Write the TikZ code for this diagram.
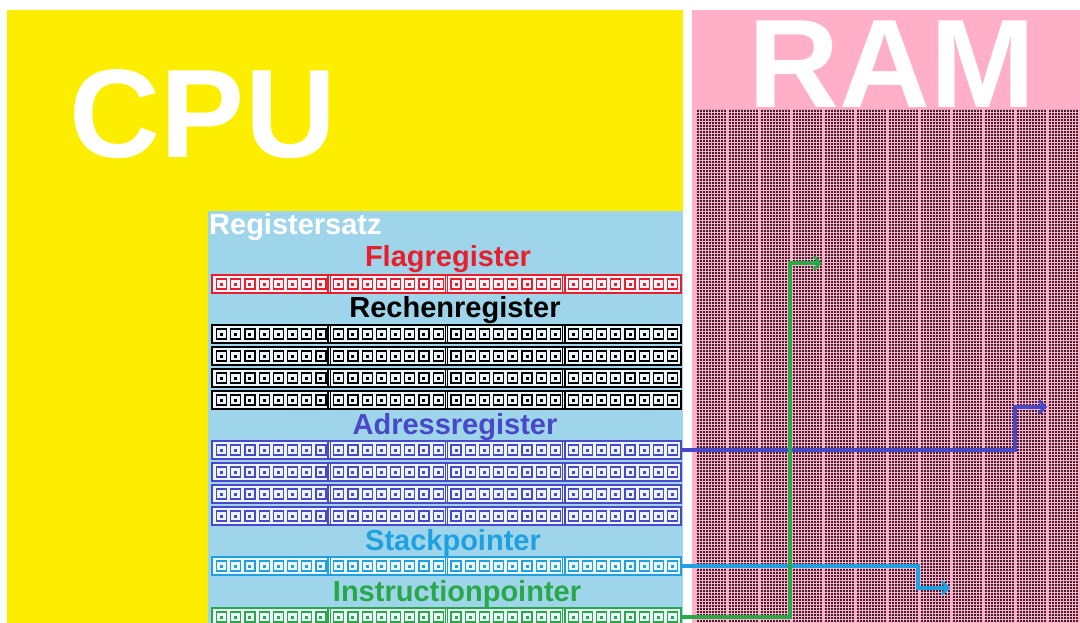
\documentclass[tikz,border=0pt]{standalone}
\usepackage{fontspec}
\setmainfont{Liberation Sans}
\usetikzlibrary{arrows.meta}
\definecolor{cpuyellow}{RGB}{253,238,0}
\definecolor{ramPink}{RGB}{255,176,200}
\definecolor{regblue}{RGB}{158,213,234}
\definecolor{flagred}{RGB}{232,30,42}
\definecolor{adrblue}{RGB}{72,72,200}
\definecolor{spblue}{RGB}{30,160,225}
\definecolor{ipgreen}{RGB}{40,168,72}
\definecolor{dotdark}{RGB}{65,32,45}
\definecolor{bitwhite}{RGB}{236,246,250}
\tikzset{
  regrowbox/.style={rectangle, minimum width=469, minimum height=18, inner sep=0pt, line width=1.5pt, fill=bitwhite},
  lbl/.style={font=\bfseries\fontsize{29}{29}\selectfont, anchor=base, inner sep=0pt},
  bigtitle/.style={font=\bfseries\fontsize{126}{126}\selectfont, text=white, anchor=base, inner sep=0pt},
  conn/.style={line width=3.5pt, -{Straight Barb[length=6pt,width=13pt,line width=3pt]}},
}
\newcommand\regrow[3]{%
  \node[regrowbox, draw=#3] (#1) at (446.5,#2+9) {};
  \foreach \g in {0,...,3}{
    \pgfmathsetmacro\gx{212+117.25*\g}
    \ifnum\g>0
      \draw[#3, line width=1.2pt] (\gx-1.3,#2) -- (\gx-1.3,#2+18);
      \draw[#3, line width=1.2pt] (\gx+1.3,#2) -- (\gx+1.3,#2+18);
    \fi
    \foreach \b in {0,...,7}{
      \pgfmathsetmacro\bx{\gx+4.5+14.2*\b}
      \draw[#3, line width=1.2pt] (\bx,#2+4) rectangle ++(10,10);
      \fill[#3] (\bx+3.5,#2+7.5) rectangle ++(3,3);
    }
  }
}
\begin{document}
\begin{tikzpicture}[x=1pt,y=-1pt]
\useasboundingbox (0,0) rectangle (1080,623);
\fill[white] (0,0) rectangle (1080,623);
% CPU
\fill[cpuyellow] (7,10) rectangle (683,623);
\node[bigtitle] (cpu) at (203,158) {CPU};
% RAM
\fill[ramPink] (692,10) rectangle (1080,623);
\node[bigtitle] (ram) at (892,108) {RAM};
\fill[dotdark] foreach \k in {0,...,11} {(697+32*\k,110) rectangle ++(29.5,513)};
\foreach \j in {0,...,171} {
  \draw[ramPink, line width=1.4pt] (692,110+3*\j+2.5) -- (1080,110+3*\j+2.5);
}
\foreach \k in {0,...,11} {
  \foreach \i in {0,...,9} {
    \draw[ramPink, line width=1.4pt] (697+32*\k+3*\i+2.5,110) -- (697+32*\k+3*\i+2.5,623);
  }
}
% Register set
\fill[regblue] (208,211) rectangle (683,623);
\node[lbl, anchor=base west, text=white] (rs) at (209,235) {Registersatz};
\node[lbl, text=flagred] (tflag) at (448,266) {Flagregister};
\regrow{flag}{275}{flagred}
\node[lbl, text=black] (trech) at (455,317) {Rechenregister};
\regrow{rech1}{325}{black}
\regrow{rech2}{347}{black}
\regrow{rech3}{369}{black}
\regrow{rech4}{391}{black}
\node[lbl, text=adrblue] (tadr) at (455,434) {Adressregister};
\regrow{adr1}{441}{adrblue}
\regrow{adr2}{463}{adrblue}
\regrow{adr3}{485}{adrblue}
\regrow{adr4}{507}{adrblue}
\node[lbl, text=spblue] (tsp) at (453,550) {Stackpointer};
\regrow{sp}{557}{spblue}
\node[lbl, text=ipgreen] (tip) at (457,601) {Instructionpointer};
\regrow{ip}{608}{ipgreen}
% connectors
\coordinate (adrBend) at (1015,407);
\coordinate (adrEnd) at (1047,407);
\coordinate (spBend) at (918,588);
\coordinate (spEnd) at (950,588);
\coordinate (ipBend) at (790,263);
\coordinate (ipEnd) at (822,263);
\draw[conn, adrblue] (adr1.east) -| (adrBend) -- (adrEnd);
\draw[conn, spblue] (sp.east) -| (spBend) -- (spEnd);
\draw[conn, ipgreen] (ip.east) -| (ipBend) -- (ipEnd);
\end{tikzpicture}
\end{document}
